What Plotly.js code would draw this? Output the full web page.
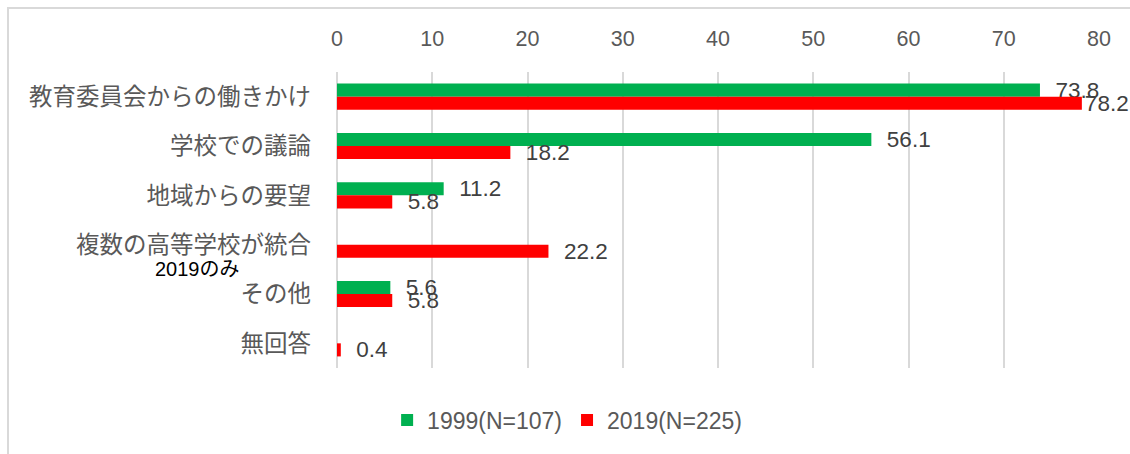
<!DOCTYPE html>
<html>
<head>
<meta charset="utf-8">
<script src="https://cdn.plot.ly/plotly-3.0.1.min.js"></script>
<style>
  html, body { margin: 0; padding: 0; background: #ffffff; overflow: hidden; }
  #frame { position: absolute; left: 7px; top: 7px; width: 1300px; height: 600px;
           border-left: 2px solid #d9d9d9; border-top: 2px solid #d9d9d9; }
  #chart { position: absolute; left: 0; top: 0; width: 1130px; height: 454px; }
</style>
</head>
<body>
<div id="frame"></div>
<div id="chart"></div>
<script>
const categories = ['教育委員会からの働きかけ', '学校での議論', '地域からの要望', '複数の高等学校が統合', 'その他', '無回答'];
const values1999 = [73.8, 56.1, 11.2, null, 5.6, null];
const values2019 = [78.2, 18.2, 5.8, 22.2, 5.8, 0.4];
const seriesNames = ['1999(N=107)', '2019(N=225)'];
const xTicks = [0, 10, 20, 30, 40, 50, 60, 70, 80];
const noteText = '2019のみ';

const labelFont = { family: 'Liberation Sans, Arial, sans-serif', size: 22.5, color: '#404040' };

// labels near the right edge are pulled in closer to the bar end
function templates(vals) {
  return vals.map(v => (v !== null && v > 76) ? '%{x}' : '\u00a0\u00a0%{x}');
}

function barTrace(name, vals, color) {
  return {
    type: 'bar', orientation: 'h', name: name,
    y: categories, x: vals,
    marker: { color: color },
    texttemplate: templates(vals),
    textposition: 'outside',
    constraintext: 'none',
    cliponaxis: false,
    textfont: labelFont,
    hoverinfo: 'skip'
  };
}

const data = [
  barTrace(seriesNames[0], values1999, '#00B050'),
  barTrace(seriesNames[1], values2019, '#FF0000')
];

const layout = {
  width: 1130, height: 454,
  margin: { l: 337, r: 31, t: 72, b: 86 },
  paper_bgcolor: 'rgba(0,0,0,0)',
  plot_bgcolor: 'rgba(0,0,0,0)',
  barmode: 'group',
  bargap: 0.47,
  bargroupgap: 0,
  showlegend: true,
  xaxis: {
    side: 'top', range: [0, 80], tickvals: xTicks,
    showgrid: true, gridcolor: '#d9d9d9', gridwidth: 2,
    zeroline: true, zerolinecolor: '#d9d9d9', zerolinewidth: 2,
    showline: false, ticks: '',
    ticklabelstandoff: 21,
    tickfont: { family: 'Liberation Sans, Arial, sans-serif', size: 21.5, color: '#595959' }
  },
  yaxis: {
    type: 'category', autorange: 'reversed',
    showgrid: false, zeroline: false, showline: false, ticks: '',
    ticklabelstandoff: 25,
    tickfont: { family: 'Noto Sans CJK JP, sans-serif', size: 23.5, color: '#595959' }
  },
  legend: {
    orientation: 'h', x: 0.302, xanchor: 'center', y: -0.176, yanchor: 'middle',
    font: { family: 'Liberation Sans, Arial, sans-serif', size: 23, color: '#595959' },
    itemclick: false, itemdoubleclick: false
  },
  annotations: [{
    text: noteText, xref: 'paper', yref: 'paper',
    x: -0.1837, y: 0.335, xanchor: 'center', yanchor: 'middle',
    showarrow: false,
    font: { family: 'Liberation Sans, Noto Sans CJK JP, sans-serif', size: 20, color: '#000000' }
  }]
};

Plotly.newPlot('chart', data, layout, { displayModeBar: false, staticPlot: true });
</script>
</body>
</html>
